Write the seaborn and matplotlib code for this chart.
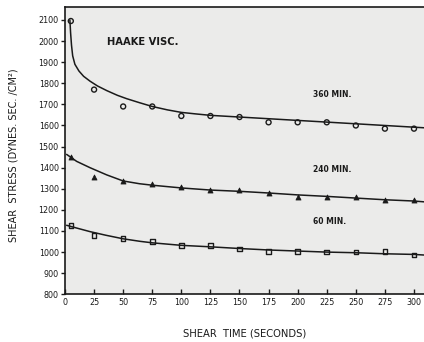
import matplotlib
matplotlib.use("Agg")
import matplotlib.pyplot as plt
import numpy as np
import pandas as pd
import seaborn as sns

# Measured shear stress at each shear time, for three standing times
shear_time = [5, 25, 50, 75, 100, 125, 150, 175, 200, 225, 250, 275, 300]
stress_360 = [2095, 1770, 1690, 1690, 1645, 1645, 1640, 1615, 1615, 1615, 1600, 1585, 1585]
stress_240 = [1450, 1355, 1338, 1324, 1310, 1293, 1294, 1278, 1262, 1262, 1262, 1246, 1246]
stress_60 = [1125, 1080, 1065, 1050, 1030, 1030, 1015, 1003, 1003, 1000, 1000, 1002, 986]

# Smoothed fit curves through each series
fit_360_x = [4.2, 4.8, 5.6, 6.6, 8.5, 12, 16, 21.5, 28, 36, 45, 53, 64, 75, 88, 100, 112, 125, 150, 200, 250, 309]
fit_360_y = [2100, 2040, 1980, 1930, 1890, 1858, 1833, 1810, 1787, 1765, 1743, 1727, 1708, 1690, 1674, 1662, 1655, 1648, 1640, 1624, 1608, 1589]
fit_240_x = [1.4, 10, 21.5, 35.8, 50, 64, 75, 100, 125, 150, 175, 200, 225, 250, 275, 300, 309]
fit_240_y = [1463, 1430, 1400, 1366, 1337, 1324, 1317, 1304, 1294, 1288, 1280, 1271, 1264, 1256, 1248, 1242, 1238]
fit_60_x = [1.4, 10, 21.5, 35, 50, 64.5, 75, 100, 125, 150, 175, 200, 225, 250, 275, 300, 309]
fit_60_y = [1127, 1114, 1097, 1080, 1063, 1051, 1044, 1032, 1025, 1017, 1010, 1005, 1000, 997, 992, 989, 986]

x_ticks = [0, 25, 50, 75, 100, 125, 150, 175, 200, 225, 250, 275, 300]
y_ticks = list(range(800, 2101, 100))

series_names = ["360 MIN.", "240 MIN.", "60 MIN."]

points = pd.DataFrame({
    "time": shear_time * 3,
    "stress": stress_360 + stress_240 + stress_60,
    "series": np.repeat(series_names, len(shear_time)),
})
fits = pd.concat([
    pd.DataFrame({"time": fit_360_x, "stress": fit_360_y, "series": series_names[0]}),
    pd.DataFrame({"time": fit_240_x, "stress": fit_240_y, "series": series_names[1]}),
    pd.DataFrame({"time": fit_60_x, "stress": fit_60_y, "series": series_names[2]}),
])

sns.set_style("ticks")
plt.rcParams["font.family"] = ["DejaVu Sans"]

fig = plt.figure(figsize=(4.24, 3.42), dpi=100, facecolor="white")
ax = fig.add_axes([65 / 424, 1 - 294.3 / 342, 1 - 65 / 424, (294.3 - 7.3) / 342])
ax.set_facecolor("#ebebea")

ink = "#1a1a1a"
for name in series_names:
    sub = fits[fits["series"] == name]
    sns.lineplot(data=sub, x="time", y="stress", ax=ax, color=ink, lw=1.1,
                 sort=False, estimator=None, legend=False)

markers = {"360 MIN.": "o", "240 MIN.": "^", "60 MIN.": "s"}
for name in series_names:
    sub = points[points["series"] == name]
    if name == "240 MIN.":
        sns.scatterplot(data=sub, x="time", y="stress", ax=ax, marker="^", s=13,
                        color=ink, edgecolor=ink, linewidth=0.6, legend=False, zorder=3)
    else:
        sns.scatterplot(data=sub, x="time", y="stress", ax=ax, marker=markers[name],
                        s=13 if name == "360 MIN." else 11,
                        facecolor="none", edgecolor=ink, linewidth=1.0, legend=False, zorder=3)

ax.set_xlim(0, 308.6)
ax.set_ylim(800, 2160)
ax.set_xticks(x_ticks)
ax.set_yticks(y_ticks)
ax.tick_params(axis="x", direction="in", length=3.5, width=1.0, labelsize=5.8,
               colors=ink, pad=3)
ax.tick_params(axis="y", direction="out", length=3, width=1.0, labelsize=5.8,
               colors=ink, pad=1.5)

for side in ["left", "bottom", "top"]:
    ax.spines[side].set_color(ink)
    ax.spines[side].set_linewidth(1.2)
ax.spines["right"].set_visible(False)

ax.set_xlabel("")
ax.set_ylabel("")
fig.text(245 / 424, 1 - 333 / 342, "SHEAR  TIME (SECONDS)", ha="center", va="center",
         fontsize=7.2, color=ink)
fig.text(14 / 424, 1 - 155 / 342, "SHEAR  STRESS (DYNES. SEC. /CM\u00b2)", ha="center",
         va="center", rotation=90, fontsize=7.0, color=ink)

ax.text(36, 1995, "HAAKE VISC.", fontsize=7.2, fontweight="bold", color=ink,
        ha="left", va="center")
ax.text(213, 1748, "360 MIN.", fontsize=5.5, fontweight="bold", color=ink, ha="left", va="center")
ax.text(213, 1392, "240 MIN.", fontsize=5.5, fontweight="bold", color=ink, ha="left", va="center")
ax.text(213, 1145, "60 MIN.", fontsize=5.5, fontweight="bold", color=ink, ha="left", va="center")

fig.savefig("out.png", dpi=100, facecolor="white")
